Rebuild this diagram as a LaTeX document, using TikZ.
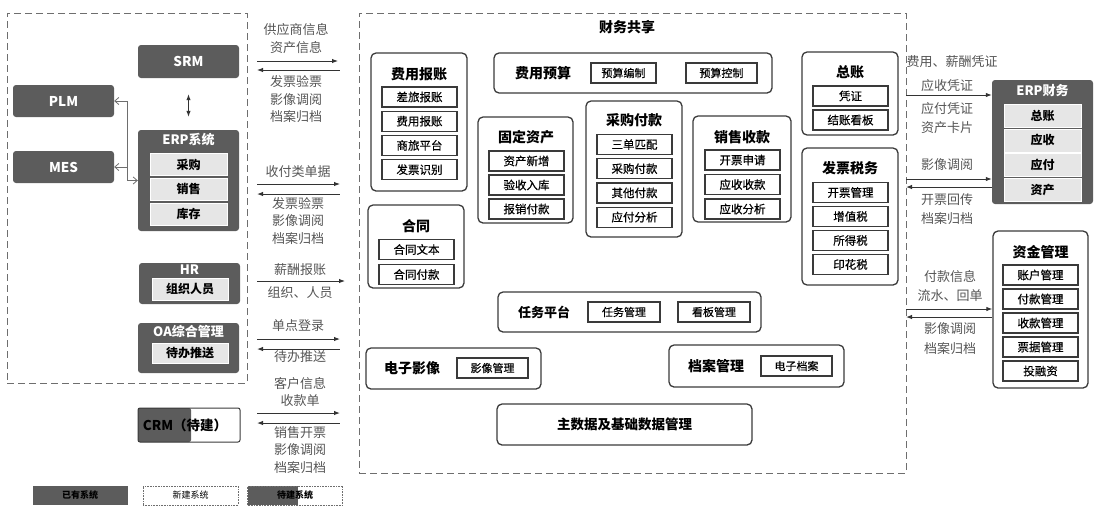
\documentclass[tikz,border=0pt]{standalone}
\usepackage{fontspec}
\setmainfont{Noto Sans CJK SC}
\newfontfamily\itemfont[FakeBold=0.4]{Noto Sans CJK SC}
\usetikzlibrary{arrows.meta}
\definecolor{sysgray}{HTML}{5C5C5C}
\definecolor{itemgray}{HTML}{E6E6E6}
\definecolor{boxc}{HTML}{3A3A3A}
\definecolor{dashc}{HTML}{6E6E6E}
\definecolor{lblc}{HTML}{555555}
\definecolor{arrc}{HTML}{333333}

\begin{document}
\begin{tikzpicture}[x = 1pt, y = -1pt,
	group/.style = {draw=dashc, line width=1pt, dash pattern=on 7pt off 4pt, inner sep=0pt},
	mod/.style = {draw=boxc, line width=1.3pt, rounded corners=5pt, inner sep=0pt},
	sub/.style = {draw=boxc, line width=1.2pt, inner sep=0pt, minimum width=75, minimum height=20, font=\itemfont\fontsize{11.5}{12}\selectfont},
	ttl/.style = {inner sep=0pt, font=\bfseries\fontsize{14}{15}\selectfont},
	sys/.style = {fill=sysgray, rounded corners=3pt, inner sep=0pt, minimum width=101, text=white, font=\bfseries\fontsize{13.5}{14}\selectfont},
	systtl/.style = {inner sep=0pt, text=white, font=\bfseries\fontsize{13}{14}\selectfont},
	sysitem/.style = {fill=itemgray, draw=white, line width=0.5pt, inner sep=0pt, minimum width=77, minimum height=22, font=\bfseries\fontsize{12}{13}\selectfont},
	lbl/.style = {text=lblc, inner sep=0pt, align=center, font=\fontsize{13}{17.5}\selectfont},
	rlbl/.style = {lbl, font=\fontsize{13}{19.5}\selectfont},
	flow/.style = {draw=arrc, line width=1pt, >={Latex[length=6pt, width=4.5pt]}},
	lnk/.style = {draw=dashc, line width=0.8pt, >={Straight Barb[length=4pt, width=7pt]}},
	legend/.style = {draw=dashc, densely dotted, line width=0.6pt, minimum width=95, minimum height=19, inner sep=0pt, font=\fontsize{9}{10}\selectfont}]

	\useasboundingbox (0,0) rectangle (1095,507);

	% groups
	\node[group, minimum width=240, minimum height=370] (own) at (127,198) {};
	\node[group, minimum width=547, minimum height=460] (fss) at (632.5,243) {};
	\node[ttl] (fss-t) at (627,27) {财务共享};

	% systems on the left
	\begin{scope}
		\node[sys, minimum height=33] (srm) at (188.5,61.5) {SRM};
		\node[sys, minimum height=32] (plm) at (63.5,101) {PLM};
		\node[sys, minimum height=32] (mes) at (63.5,167) {MES};

		\node[sys, minimum height=101] (erp) at (188.5,180.5) {};
		\node[systtl] (erp-t) at (188.5,140) {ERP系统};
		\foreach \s [count=\i] in {采购,销售,库存}
		{
			\node[sysitem] (erp-\i) at (188.5,{164.5+24.7*(\i-1)}) {\s};
		}

		\node[sys, minimum height=41] (hr) at (189.5,283.5) {};
		\node[systtl] (hr-t) at (189.5,270) {HR};
		\node[sysitem, minimum width=76] (hr-1) at (190,289) {组织人员};

		\node[sys, minimum height=50] (oa) at (188.5,348) {};
		\node[systtl] (oa-t) at (188.5,331) {OA综合管理};
		\node[sysitem, minimum width=76, minimum height=20] (oa-1) at (190,353) {待办推送};

		\node[draw=boxc, line width=1pt, rounded corners=2pt, minimum width=102, minimum height=34, inner sep=0pt,
			path picture={\fill[sysgray] (path picture bounding box.north west) rectangle ([xshift=53pt]path picture bounding box.south west);}] (crm) at (189,425) {};
		\node[inner sep=0pt, font=\bfseries\fontsize{13.5}{14}\selectfont] (crm-t) at (185,425) {CRM（待建）};
	\end{scope}

	\draw[flow, <->] ([yshift=-16pt]srm.south) -- ([yshift=13pt]erp.north);
	\coordinate (bus) at (127,0);
	\draw[lnk, <->] (plm.east) -| (bus |- erp.west) -- (erp.west);
	\draw[lnk, ->] (bus |- mes.east) -- (mes.east);

	% finance shared services
	\node[mod, minimum width=96, minimum height=138] (expense) at (419,122) {};
	\node[ttl] (expense-t) at (419,74) {费用报账};
	\foreach \s [count=\i] in {差旅报账,费用报账,商旅平台,发票识别}
	{
		\node[sub] (expense-\i) at (419.5,{97+24.2*(\i-1)}) {\s};
	}

	\node[mod, minimum width=278, minimum height=40] (budget) at (633,73) {};
	\node[ttl] (budget-t) at (543,73) {费用预算};
	\node[sub, minimum width=65, font=\itemfont\fontsize{11}{12}\selectfont] (budget-1) at (623.5,73) {预算编制};
	\node[sub, minimum width=71, font=\itemfont\fontsize{11}{12}\selectfont] (budget-2) at (721.5,73) {预算控制};

	\node[mod, minimum width=95, minimum height=106] (asset) at (525.5,170) {};
	\node[ttl] (asset-t) at (526,137) {固定资产};
	\foreach \s [count=\i] in {资产新增,验收入库,报销付款}
	{
		\node[sub] (asset-\i) at (526.5,{161+24*(\i-1)}) {\s};
	}

	\node[mod, minimum width=96, minimum height=136] (purchase) at (634,169) {};
	\node[ttl] (purchase-t) at (634,120) {采购付款};
	\foreach \s [count=\i] in {三单匹配,采购付款,其他付款,应付分析}
	{
		\node[sub] (purchase-\i) at (634.5,{144.5+24.2*(\i-1)}) {\s};
	}

	\node[mod, minimum width=98, minimum height=106] (sales) at (742,169) {};
	\node[ttl] (sales-t) at (742,137) {销售收款};
	\foreach \s [count=\i] in {开票申请,应收收款,应收分析}
	{
		\node[sub] (sales-\i) at (742.5,{160+24.5*(\i-1)}) {\s};
	}

	\node[mod, minimum width=96, minimum height=83] (contract) at (416,246.5) {};
	\node[ttl] (contract-t) at (416,226) {合同};
	\foreach \s [count=\i] in {合同文本,合同付款}
	{
		\node[sub] (contract-\i) at (416.5,{249.5+25*(\i-1)}) {\s};
	}

	\node[mod, minimum width=96, minimum height=83] (ledger) at (850,93.5) {};
	\node[ttl] (ledger-t) at (850,72) {总账};
	\foreach \s [count=\i] in {凭证,结账看板}
	{
		\node[sub] (ledger-\i) at (850.5,{96+24*(\i-1)}) {\s};
	}

	\node[mod, minimum width=96, minimum height=137] (tax) at (850,216.5) {};
	\node[ttl] (tax-t) at (850,168) {发票税务};
	\foreach \s [count=\i] in {开票管理,增值税,所得税,印花税}
	{
		\node[sub] (tax-\i) at (850.5,{192.5+24*(\i-1)}) {\s};
	}

	\node[mod, minimum width=263, minimum height=40] (task) at (629.5,312) {};
	\node[ttl, font=\bfseries\fontsize{13}{14}\selectfont] (task-t) at (544,312) {任务平台};
	\node[sub, minimum width=72, font=\itemfont\fontsize{11}{12}\selectfont] (task-1) at (624,312) {任务管理};
	\node[sub, minimum width=72, font=\itemfont\fontsize{11}{12}\selectfont] (task-2) at (714,312) {看板管理};

	\node[mod, minimum width=175, minimum height=41] (image) at (453.5,368.5) {};
	\node[ttl] (image-t) at (412,368) {电子影像};
	\node[sub, minimum width=71, font=\itemfont\fontsize{11}{12}\selectfont] (image-1) at (492.5,368) {影像管理};

	\node[mod, minimum width=175, minimum height=42] (archive) at (756.5,366) {};
	\node[ttl] (archive-t) at (716,366) {档案管理};
	\node[sub, minimum width=71, font=\itemfont\fontsize{11}{12}\selectfont] (archive-1) at (796.5,366) {电子档案};

	\node[mod, minimum width=255, minimum height=41, font=\bfseries\fontsize{13.5}{14}\selectfont] (mdm) at (624.5,424.5) {主数据及基础数据管理};

	% systems on the right
	\node[sys, minimum height=124] (erpf) at (1042.5,142) {};
	\node[systtl] (erpf-t) at (1042.5,91) {ERP财务};
	\foreach \s [count=\i] in {总账,应收,应付,资产}
	{
		\node[sysitem, minimum height=23] (erpf-\i) at (1042.5,{115.5+24.8*(\i-1)}) {\s};
	}

	\node[mod, minimum width=95, minimum height=157] (fund) at (1040.5,309.5) {};
	\node[ttl] (fund-t) at (1040.5,252) {资金管理};
	\foreach \s [count=\i] in {账户管理,付款管理,收款管理,票据管理,投融资}
	{
		\node[sub] (fund-\i) at (1040.5,{275+24*(\i-1)}) {\s};
	}

	% flows on the left
	\foreach \y/\e in {61/338,184/340,281/345,339/340,413/340}
	{
		\draw[flow, ->] (257,\y) coordinate (src-\y) -- (\e,\y) coordinate (dst-\y);
	}
	\foreach \y in {70,194,349,423}
	{
		\draw[flow, <-] (257,\y) coordinate (src-\y) -- (340,\y) coordinate (dst-\y);
	}

	\node[lbl] (l1a) at (296,38.5) {供应商信息\\资产信息};
	\node[lbl] (l1b) at (296,99.5) {发票验票\\影像调阅\\档案归档};
	\node[lbl] (l2a) at (298,172) {收付类单据};
	\node[lbl] (l2b) at (298,221) {发票验票\\影像调阅\\档案归档};
	\node[lbl] (l3a) at (300,270) {薪酬报账};
	\node[lbl] (l3b) at (300,293) {组织、人员};
	\node[lbl] (l4a) at (298,326) {单点登录};
	\node[lbl] (l4b) at (300,357) {待办推送};
	\node[lbl] (l5a) at (300,392) {客户信息\\收款单};
	\node[lbl] (l5b) at (300,450) {销售开票\\影像调阅\\档案归档};

	% flows on the right
	\coordinate (v-95) at (906,95);
	\coordinate (v-179) at (906,179);
	\coordinate (v-187) at (906,187);
	\coordinate (v-309) at (906,309);
	\coordinate (v-317) at (906,317);
	\draw[flow, ->] (v-95) -- (erpf.west |- v-95);
	\draw[flow, ->] (v-179) -- (erpf.west |- v-179);
	\draw[flow, <-] (v-187) -- (erpf.west |- v-187);
	\draw[flow, ->] (v-309) -- (fund.west |- v-309);
	\draw[flow, <-] (v-317) -- (fund.west |- v-317);

	\node[lbl] (r1a) at (952,62) {费用、薪酬凭证};
	\node[lbl] (r1b) at (947,86) {应收凭证};
	\node[rlbl] (r1c) at (947,118) {应付凭证\\资产卡片};
	\node[lbl] (r2a) at (947,165) {影像调阅};
	\node[rlbl] (r2b) at (947,209) {开票回传\\档案归档};
	\node[rlbl] (r3a) at (950,286) {付款信息\\流水、回单};
	\node[rlbl] (r3b) at (950,338.5) {影像调阅\\档案归档};

	% legend
	\node[legend, fill=sysgray, draw=none, font=\bfseries\fontsize{9}{10}\selectfont] (lg1) at (80,495.5) {已有系统};
	\node[legend] (lg2) at (190.5,495.5) {新建系统};
	\node[legend, font=\bfseries\fontsize{9}{10}\selectfont,
		path picture={\fill[sysgray] (path picture bounding box.north west) rectangle ([xshift=50pt]path picture bounding box.south west);}] (lg3) at (295,495.5) {待建系统};
\end{tikzpicture}
\end{document}
